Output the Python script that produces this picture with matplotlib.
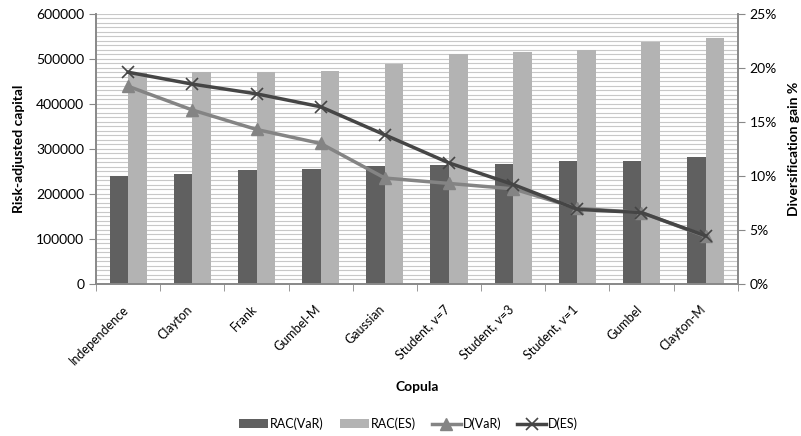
import numpy as np
import matplotlib.pyplot as plt
from matplotlib.ticker import MultipleLocator, FuncFormatter
from matplotlib.transforms import ScaledTranslation

plt.rcParams['font.family'] = ['Lato', 'DejaVu Sans']

copulas = ["Independence", "Clayton", "Frank", "Gumbel-M", "Gaussian",
           "Student, v=7", "Student, v=3", "Student, v=1", "Gumbel", "Clayton-M"]
rac_var = [240000, 245000, 252000, 255000, 263000, 265000, 266000, 273000, 274000, 281000]
rac_es = [468000, 470000, 470000, 474000, 488000, 510000, 515000, 520000, 537000, 547000]
d_var = [18.3, 16.1, 14.3, 13.0, 9.8, 9.3, 8.8, 7.0, 6.6, 4.4]
d_es = [19.6, 18.5, 17.6, 16.4, 13.8, 11.2, 9.2, 6.9, 6.6, 4.45]

x = np.arange(len(copulas))
w = 0.29

fig = plt.figure(figsize=(8.01, 4.36), dpi=100)
ax = fig.add_axes([0.12, 0.349, 0.801, 0.619])
ax2 = ax.twinx()

# lignes de grille tous les 10000
ax.set_ylim(0, 600000)
ax.yaxis.set_major_locator(MultipleLocator(100000))
ax.yaxis.set_minor_locator(MultipleLocator(10000))
ax.grid(axis='y', which='both', color='#c8c8c8', linewidth=0.8)
ax.set_axisbelow(True)

b1 = ax.bar(x - w / 2, rac_var, w, color='#606060', label='RAC(VaR)', zorder=2)
b2 = ax.bar(x + w / 2, rac_es, w, color='#b3b3b3', label='RAC(ES)', zorder=2)

ax2.set_ylim(0, 25)
ax2.yaxis.set_major_locator(MultipleLocator(5))
ax2.yaxis.set_major_formatter(FuncFormatter(lambda v, p: f"{v:.0f}%"))
l1, = ax2.plot(x, d_var, color='#848484', linewidth=2.5, marker='^', markersize=8,
               label='D(VaR)')
l2, = ax2.plot(x, d_es, color='#454545', linewidth=2.5, marker='x', markersize=8,
               markeredgewidth=1.2, label='D(ES)')

ax.set_xlim(-0.5, len(copulas) - 0.5)
ax.set_xticks(x)
ax.set_xticklabels(copulas, fontsize=9)
ax.set_xticks(np.arange(len(copulas) + 1) - 0.5, minor=True)
ax.tick_params(axis='x', which='major', length=0, pad=14)
ax.tick_params(axis='x', which='minor', length=5, color='#888888')
ax.tick_params(axis='y', which='major', length=5, color='#888888', labelsize=10)
ax.tick_params(axis='y', which='minor', length=0)
ax2.tick_params(axis='y', length=5, color='#888888', labelsize=10)

for a in (ax, ax2):
    a.spines['top'].set_visible(False)
    for s in ('left', 'right', 'bottom'):
        a.spines[s].set_color('#888888')
        a.spines[s].set_linewidth(1.2)

ax.set_ylabel("Risk-adjusted capital", fontweight='bold', fontsize=10)
ax.yaxis.set_label_coords(-0.111, 0.5)
ax2.set_ylabel("Diversification gain %", fontweight='bold', fontsize=10)
ax2.yaxis.set_label_coords(1.078, 0.5)
ax.set_xlabel("Copula", fontweight='bold', fontsize=10, va='center')
ax.xaxis.set_label_coords(0.5, -0.381)

fig.legend(handles=[b1, b2, l1, l2], loc='center', bbox_to_anchor=(0.51, 0.028),
           ncol=4, frameon=False, fontsize=9, handlelength=2.3, columnspacing=1.3,
           handletextpad=0.15)

# etiquettes inclinees, fin du texte sous chaque categorie
plt.setp(ax.get_xticklabels(), rotation=45, rotation_mode='anchor', ha='right', va='top')
shift = ScaledTranslation(-0.06, 0, fig.dpi_scale_trans)
for lab in ax.get_xticklabels():
    lab.set_transform(lab.get_transform() + shift)

fig.savefig("out.png", dpi=100)
